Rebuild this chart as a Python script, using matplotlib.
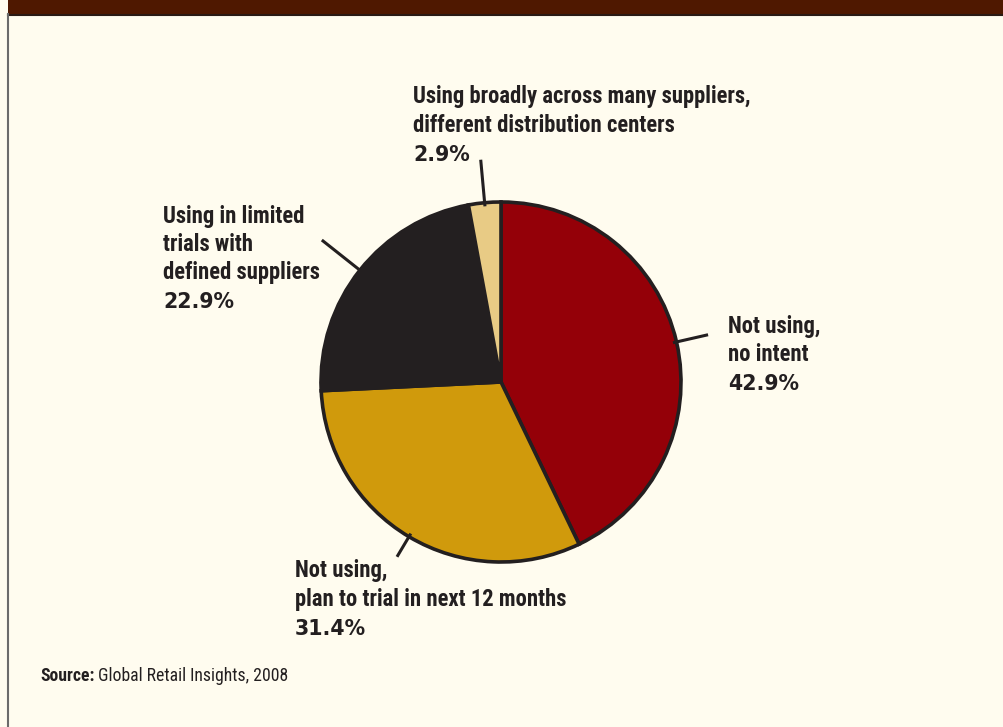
import matplotlib
matplotlib.use("Agg")
import matplotlib.pyplot as plt
from matplotlib.font_manager import fontManager
import numpy as np

# ---- data ----
categories = [
    "Not using,\nno intent",
    "Not using,\nplan to trial in next 12 months",
    "Using in limited\ntrials with\ndefined suppliers",
    "Using broadly across many suppliers,\ndifferent distribution centers",
]
values = [42.9, 31.4, 22.9, 2.9]
pct_labels = ["42.9%", "31.4%", "22.9%", "2.9%"]
source_bold = "Source:"
source_text = " Global Retail Insights, 2008"

# ---- styles ----
colors = ["#940008", "#D09A0C", "#231F20", "#E8CB85"]
edge = "#231F20"
bg = "#FFFCEF"

names = {f.name for f in fontManager.ttflist}
cond = None
for cand in ["Liberation Sans Narrow", "DejaVu Sans Condensed", "Roboto Condensed",
             "Open Sans Condensed"]:
    if cand in names:
        cond = cand
        break
cond_stretch = "normal"
if cond is None:
    for f in fontManager.ttflist:
        if "condensed" in str(f.stretch) or f.stretch in (100, 200, 300, 400) and isinstance(f.stretch, int) and f.stretch < 500:
            cond = f.name
            cond_stretch = f.stretch
            break
if cond is None:
    cond = "Roboto" if "Roboto" in names else "DejaVu Sans"
    lab_size, src_size = 14, 11
else:
    lab_size, src_size = 16.3, 12.7

pct_family = "DejaVu Sans"
pct_size = 14.8

W, H = 1004, 727
fig = plt.figure(figsize=(W / 100, H / 100), dpi=100)
fig.patch.set_facecolor(bg)

# title band and borders
fig.patches.append(plt.Rectangle((8 / W, 1 - 14 / H), 1, 14 / H, transform=fig.transFigure,
                                 facecolor="#4F1800", edgecolor="none"))
fig.lines.append(plt.Line2D([8 / W, 1], [1 - 14.5 / H] * 2, transform=fig.transFigure,
                            color="#2A1A14", lw=1.5))
fig.lines.append(plt.Line2D([8 / W] * 2, [0, 1 - 14 / H], transform=fig.transFigure,
                            color="#6B6B6B", lw=1.5))

# pie axes: center (501,382) px, radius 180 px
cx, cy, R = 501, 382, 180
ax = fig.add_axes([(cx - R) / W, (H - cy - R) / H, 2 * R / W, 2 * R / H])
ax.set_facecolor("none")
wedges, _ = ax.pie(values, colors=colors, startangle=90, counterclock=False,
                   wedgeprops=dict(edgecolor=edge, linewidth=2.6))
for w in wedges:
    w.set_clip_on(False)
ax.set_xlim(-1, 1)
ax.set_ylim(-1, 1)
ax.set_aspect("equal")
ax.axis("off")

def to_data(px, py):
    return (px - cx) / R, (cy - py) / R

leader_r = [1.18, 1.13, 1.27, 1.24]
label_pos = [(728, 326), (295, 571), (163, 216), (413, 97)]
line_h = 28.5

for w, rr, (lx, ly), cat, pct in zip(wedges, leader_r, label_pos, categories, pct_labels):
    ang = np.deg2rad((w.theta1 + w.theta2) / 2)
    ax.plot([0.98 * np.cos(ang), rr * np.cos(ang)], [0.98 * np.sin(ang), rr * np.sin(ang)],
            color=edge, lw=2.2, clip_on=False, solid_capstyle="butt")
    lines = cat.split("\n")
    for i, t in enumerate(lines):
        x, y = to_data(lx, ly + i * line_h)
        ax.text(x, y, t, ha="left", va="center", fontsize=lab_size, fontweight="bold",
                fontstretch=cond_stretch, family=[cond, "DejaVu Sans"], color="#231F20",
                clip_on=False)
    x, y = to_data(lx, ly + len(lines) * line_h + 1)
    ax.text(x, y, pct, ha="left", va="center", fontsize=pct_size, fontweight="bold",
            family=pct_family, color="#231F20", clip_on=False)

# source
ax2 = fig.add_axes([0, 0, 1, 1])
ax2.axis("off")
t1 = ax2.text(40 / W, 1 - 676 / H, source_bold, ha="left", va="center", fontsize=src_size,
              fontweight="bold", family=[cond, "DejaVu Sans"], color="#231F20")
ax2.annotate(source_text, xy=(1, 0.5), xycoords=t1, ha="left", va="center", fontsize=src_size,
             family=[cond, "DejaVu Sans"], color="#231F20")

fig.savefig("out.png", dpi=100, facecolor=bg)
